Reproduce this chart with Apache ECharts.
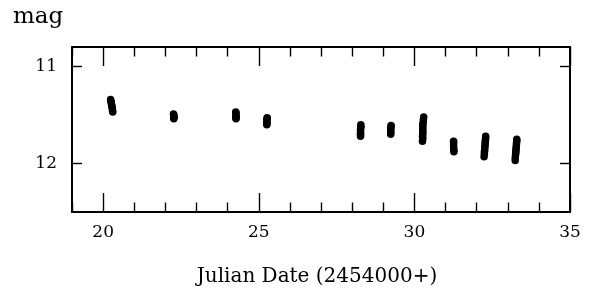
<!DOCTYPE html>
<html>
<head>
<meta charset="utf-8">
<script src="https://cdn.jsdelivr.net/npm/echarts@6/dist/echarts.min.js"></script>
<style>
html,body{margin:0;padding:0;background:#fff;}
#chart{width:591px;height:291px;}
</style>
</head>
<body>
<div id="chart"></div>
<script>
// ---- data (JD - 2454000, magnitude) ----
const night1Jd  = [20.24, 20.25, 20.26, 20.27, 20.28, 20.29, 20.30, 20.30, 20.31];
const night1Mag = [11.34, 11.36, 11.37, 11.39, 11.41, 11.42, 11.44, 11.46, 11.47];
const night2Jd  = [22.26, 22.27, 22.27, 22.28, 22.27, 22.27];
const night2Mag = [11.49, 11.50, 11.51, 11.52, 11.53, 11.54];
const night3Jd  = [24.26, 24.27, 24.27, 24.27, 24.26, 24.27, 24.27];
const night3Mag = [11.47, 11.48, 11.50, 11.51, 11.52, 11.53, 11.54];
const night4Jd  = [25.27, 25.27, 25.26, 25.26, 25.26, 25.26, 25.26];
const night4Mag = [11.53, 11.54, 11.55, 11.57, 11.58, 11.59, 11.60];
const night5Jd  = [28.28, 28.28, 28.28, 28.27, 28.27, 28.27, 28.27, 28.27];
const night5Mag = [11.60, 11.62, 11.63, 11.65, 11.67, 11.69, 11.70, 11.72];
const night6Jd  = [29.25, 29.25, 29.24, 29.24, 29.24, 29.24, 29.24];
const night6Mag = [11.61, 11.62, 11.64, 11.65, 11.67, 11.68, 11.70];
const night7Jd  = [30.30, 30.29, 30.28, 30.27, 30.27, 30.27, 30.27, 30.27, 30.27, 30.26, 30.27, 30.26];
const night7Mag = [11.52, 11.55, 11.58, 11.60, 11.62, 11.64, 11.66, 11.68, 11.70, 11.72, 11.74, 11.77];
const night8Jd  = [31.26, 31.26, 31.26, 31.26, 31.26, 31.27, 31.27];
const night8Mag = [11.77, 11.78, 11.80, 11.82, 11.84, 11.86, 11.88];
const night9Jd  = [32.29, 32.29, 32.28, 32.28, 32.27, 32.27, 32.26, 32.26, 32.25, 32.25, 32.24];
const night9Mag = [11.72, 11.74, 11.76, 11.78, 11.80, 11.82, 11.84, 11.86, 11.88, 11.90, 11.93];
const night10Jd  = [33.29, 33.29, 33.28, 33.28, 33.27, 33.27, 33.26, 33.26, 33.25, 33.24, 33.24];
const night10Mag = [11.75, 11.77, 11.79, 11.81, 11.83, 11.85, 11.87, 11.89, 11.91, 11.94, 11.97];

const xMajorTicks = [20, 25, 30, 35];
const xMinorTicks = [19, 21, 22, 23, 24, 26, 27, 28, 29, 31, 32, 33, 34];
const yTicks = [11, 12];

const xTitle = 'Julian Date (2454000+)';
const yTitle = 'mag';

const nightsJd  = [night1Jd, night2Jd, night3Jd, night4Jd, night5Jd, night6Jd, night7Jd, night8Jd, night9Jd, night10Jd];
const nightsMag = [night1Mag, night2Mag, night3Mag, night4Mag, night5Mag, night6Mag, night7Mag, night8Mag, night9Mag, night10Mag];
const points = [];
nightsJd.forEach((jd, i) => jd.forEach((x, k) => points.push([x, nightsMag[i][k]])));

const FONT = '"DejaVu Serif", serif';
const lineStyle = { color: '#000', width: 2 };
const tickStyle = { color: '#000', width: 1.4 };

function xAxis(pos, ticks, len, showLine, labels) {
  return {
    type: 'value', min: 19, max: 35, position: pos,
    axisLine: { show: showLine, onZero: false, lineStyle: lineStyle },
    axisTick: { show: true, inside: true, length: len, customValues: ticks, lineStyle: tickStyle },
    axisLabel: labels ? { show: true, customValues: ticks, margin: 12, color: '#000',
                          fontFamily: FONT, fontSize: 17, formatter: v => String(v) }
                      : { show: false },
    splitLine: { show: false }
  };
}
function yAxis(pos, labels) {
  return {
    type: 'value', min: 10.8, max: 12.5, inverse: true, position: pos,
    axisLine: { show: true, onZero: false, lineStyle: lineStyle },
    axisTick: { show: true, inside: true, length: 10, customValues: yTicks, lineStyle: tickStyle },
    axisLabel: labels ? { show: true, customValues: yTicks, margin: 15, color: '#000',
                          fontFamily: FONT, fontSize: 17, formatter: v => String(v) }
                      : { show: false },
    splitLine: { show: false }
  };
}

const chart = echarts.init(document.getElementById('chart'), null, { renderer: 'canvas' });
chart.setOption({
  animation: false,
  backgroundColor: '#fff',
  grid: { left: 72, right: 21, top: 47, bottom: 79, containLabel: false },
  xAxis: [
    xAxis('bottom', xMajorTicks, 19, true, true),
    xAxis('bottom', xMinorTicks, 9.5, false, false),
    xAxis('top', xMajorTicks, 19, true, false),
    xAxis('top', xMinorTicks, 9.5, false, false)
  ],
  yAxis: [ yAxis('left', true), yAxis('right', false) ],
  graphic: [
    { type: 'text', left: 13, top: 6,
      style: { text: yTitle, font: '23px ' + FONT, fill: '#000' } },
    { type: 'text', x: 317, y: 277,
      style: { text: xTitle, font: '20px ' + FONT, fill: '#000', textAlign: 'center', textVerticalAlign: 'middle' } }
  ],
  series: [{
    type: 'scatter', xAxisIndex: 0, yAxisIndex: 0,
    symbol: 'circle', symbolSize: 7.5,
    itemStyle: { color: '#000', opacity: 1 },
    data: points
  }]
});
</script>
</body>
</html>
